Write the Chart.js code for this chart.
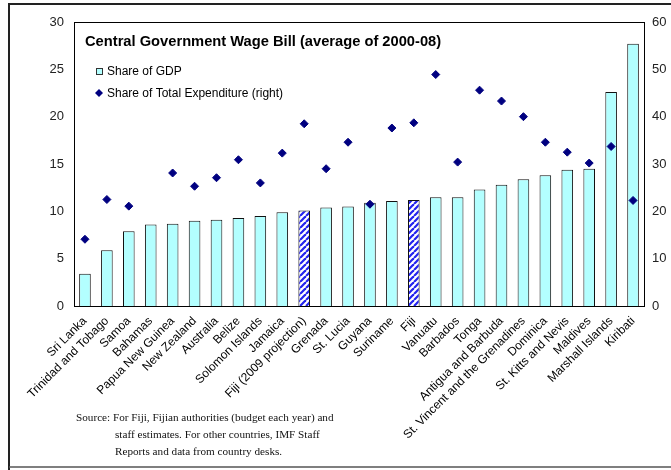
<!DOCTYPE html>
<html>
<head>
<meta charset="utf-8">
<script src="https://cdn.jsdelivr.net/npm/chart.js"></script>
<style>
  html, body { margin: 0; padding: 0; background: #fff; }
  #wrap { position: relative; width: 671px; height: 470px; }
  #source {
    position: absolute; left: 76px; top: 409px;
    font-family: "Liberation Serif", "Times New Roman", serif;
    font-size: 11.2px; line-height: 17px; color: #111;
  }
  #source .ind { padding-left: 39px; }
</style>
</head>
<body>
<div id="wrap">
  <canvas id="chart" width="671" height="470"></canvas>
  <div id="source">
    <div>Source: For Fiji, Fijian authorities (budget each year) and</div>
    <div class="ind">staff estimates. For other countries, IMF Staff</div>
    <div class="ind">Reports and data from country desks.</div>
  </div>
</div>
<script>
// categories, left to right
const countries = [
    'Sri Lanka', 'Trinidad and Tobago', 'Samoa', 'Bahamas', 'Papua New Guinea',
    'New Zealand', 'Australia', 'Belize', 'Solomon Islands', 'Jamaica',
    'Fiji (2009 projection)', 'Grenada', 'St. Lucia', 'Guyana', 'Suriname',
    'Fiji', 'Vanuatu', 'Barbados', 'Tonga', 'Antigua and Barbuda',
    'St. Vincent and the Grenadines', 'Dominica', 'St. Kitts and Nevis',
    'Maldives', 'Marshall Islands', 'Kiribati'
];

// share of GDP (left axis)
const shareGdp = [
    3.4, 5.9, 7.9, 8.6, 8.7, 9.0, 9.1, 9.3, 9.5, 9.9,
    10.1, 10.4, 10.5, 10.9, 11.1, 11.2, 11.5, 11.5, 12.3, 12.8,
    13.4, 13.8, 14.4, 14.5, 22.6, 27.7
];

// share of total expenditure (right axis), no value for Bahamas
const shareExp = [
    14.1, 22.5, 21.1, null, 28.1, 25.3, 27.1, 30.9, 26.0, 32.3,
    38.5, 29.0, 34.6, 21.5, 37.6, 38.7, 48.9, 30.4, 45.6, 43.3,
    40.0, 34.6, 32.5, 30.2, 33.7, 22.3
];

const leftTicks = [0, 5, 10, 15, 20, 25, 30];
const rightTicks = [0, 10, 20, 30, 40, 50, 60];

const fijiBars = ['Fiji (2009 projection)', 'Fiji'];

// hatched fill for the Fiji bars
function makeHatch() {
    const c = document.createElement('canvas');
    c.width = 6;
    c.height = 6;
    const g = c.getContext('2d');
    g.fillStyle = '#ffffff';
    g.fillRect(0, 0, 6, 6);
    g.strokeStyle = '#2323ee';
    g.lineWidth = 2.2;
    for (let k = -6; k <= 12; k += 6) {
        g.beginPath();
        g.moveTo(k, 6);
        g.lineTo(k + 6, 0);
        g.stroke();
    }
    return g.createPattern(c, 'repeat');
}

const ctx = document.getElementById('chart').getContext('2d');
const hatch = makeHatch();
const barColors = countries.map(c => fijiBars.includes(c) ? hatch : '#b3ffff');

// frame, title and legend inside the plot
const decor = {
    id: 'decor',
    afterDraw(chart) {
        const g = chart.ctx;
        const a = chart.chartArea;
        g.save();
        g.strokeStyle = '#000';
        g.lineWidth = 1;
        g.strokeRect(a.left + 0.5, a.top + 0.5, a.right - a.left, a.bottom - a.top);

        // outer frame
        g.strokeStyle = '#222';
        g.lineWidth = 2;
        g.beginPath();
        g.moveTo(9, 470);
        g.lineTo(9, 4);
        g.lineTo(671, 4);
        g.stroke();
        g.strokeStyle = '#555';
        g.lineWidth = 1.5;
        g.beginPath();
        g.moveTo(9, 467);
        g.lineTo(671, 467);
        g.stroke();

        g.fillStyle = '#000';
        g.textBaseline = 'middle';
        g.font = 'bold 14.7px "Liberation Sans", Arial, sans-serif';
        g.fillText('Central Government Wage Bill (average of 2000-08)', 85, 42);

        g.font = '12px "Liberation Sans", Arial, sans-serif';
        g.fillStyle = '#b3ffff';
        g.fillRect(96, 68, 6, 6);
        g.strokeStyle = '#333';
        g.lineWidth = 1;
        g.strokeRect(96.5, 68.5, 6, 6);
        g.fillStyle = '#000';
        g.fillText('Share of GDP', 107, 71.5);

        g.fillStyle = '#000080';
        g.beginPath();
        g.moveTo(99, 89);
        g.lineTo(103, 93);
        g.lineTo(99, 97);
        g.lineTo(95, 93);
        g.closePath();
        g.fill();
        g.fillStyle = '#000';
        g.fillText('Share of Total Expenditure (right)', 107, 93.5);
        g.restore();
    }
};

new Chart(ctx, {
    data: {
        labels: countries,
        datasets: [
            {
                type: 'line',
                label: 'Share of Total Expenditure (right)',
                data: shareExp,
                yAxisID: 'y1',
                showLine: false,
                pointStyle: 'rectRot',
                pointRadius: 4,
                backgroundColor: '#000080',
                borderColor: '#000080',
                borderWidth: 1,
                order: 1
            },
            {
                type: 'bar',
                label: 'Share of GDP',
                data: shareGdp,
                yAxisID: 'y',
                backgroundColor: barColors,
                borderColor: '#111',
                borderWidth: 1,
                barPercentage: 0.53,
                categoryPercentage: 1,
                order: 2
            }
        ]
    },
    options: {
        responsive: false,
        animation: false,
        layout: { padding: { left: 0, right: 0, top: 22, bottom: 0 } },
        plugins: {
            legend: { display: false },
            title: { display: false },
            tooltip: { enabled: false }
        },
        scales: {
            x: {
                grid: { display: false },
                border: { display: false },
                ticks: {
                    autoSkip: false,
                    maxRotation: 45,
                    minRotation: 45,
                    padding: 0,
                    color: '#000',
                    font: { family: '"Liberation Sans", Arial, sans-serif', size: 12 }
                },
                afterFit(s) { s.height = 164; }
            },
            y: {
                position: 'left',
                min: 0,
                max: 30,
                grid: { display: false, drawTicks: false },
                border: { display: false },
                afterBuildTicks(s) { s.ticks = leftTicks.map(v => ({ value: v })); },
                ticks: {
                    padding: 10,
                    color: '#222',
                    font: { family: '"Liberation Sans", Arial, sans-serif', size: 13 }
                },
                afterFit(s) { s.width = 74; }
            },
            y1: {
                position: 'right',
                min: 0,
                max: 60,
                grid: { display: false, drawTicks: false },
                border: { display: false },
                afterBuildTicks(s) { s.ticks = rightTicks.map(v => ({ value: v })); },
                ticks: {
                    padding: 8,
                    color: '#222',
                    font: { family: '"Liberation Sans", Arial, sans-serif', size: 13 }
                },
                afterFit(s) { s.width = 27; }
            }
        }
    },
    plugins: [decor]
});
</script>
</body>
</html>
